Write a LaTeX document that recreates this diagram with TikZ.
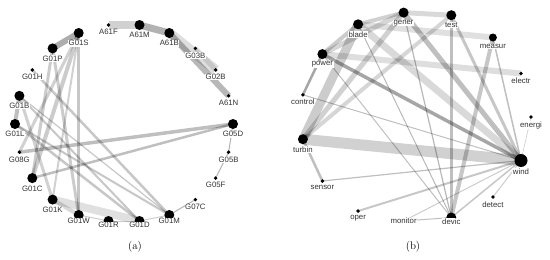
\documentclass[tikz,border=0pt]{standalone}
\usepackage{fontspec}
\newfontfamily\labfont{Liberation Sans}
\pgfdeclarelayer{bg}
\pgfsetlayers{bg,main}
\begin{document}
\begin{tikzpicture}[x=1pt,y=-1pt,
  big/.style={circle,fill=black,inner sep=0pt,minimum size=10pt},
  med/.style={circle,fill=black,inner sep=0pt,minimum size=8pt},
  huge/.style={circle,fill=black,inner sep=0pt,minimum size=13pt},
  sml/.style={circle,fill=black,inner sep=0pt,minimum size=3.8pt},
  lab/.style={font=\labfont\fontsize{7.8}{8}\selectfont,fill=white,inner sep=0.5pt,text=black!80,label distance=1.6pt},
  ed/.style 2 args={line width=#1pt,draw=black,draw opacity=#2},
  captext/.style={font=\fontsize{11}{12}\selectfont,inner sep=0pt}]
\useasboundingbox (0,0) rectangle (550,260);
% ---------- panel (a) nodes ----------
\node[big,label={[lab]below:G05D}] (G05D) at (233,124) {};
\node[sml,label={[lab]below:A61N}] (A61N) at (228.6,95.8) {};
\node[sml,label={[lab]below:G02B}] (G02B) at (215.7,69.9) {};
\node[sml,label={[lab]below:G03B}] (G03B) at (195.4,48.4) {};
\node[big,label={[lab]below:A61B}] (A61B) at (169.3,33) {};
\node[big,label={[lab]below:A61M}] (A61M) at (139.5,25) {};
\node[sml,label={[lab]below:A61F}] (A61F) at (108.5,25) {};
\node[big,label={[lab]below:G01S}] (G01S) at (78.7,33) {};
\node[big,label={[lab]below:G01P}] (G01P) at (52.6,48.4) {};
\node[sml,label={[lab]below:G01H}] (G01H) at (32.3,69.9) {};
\node[big,label={[lab]below:G01B}] (G01B) at (19.4,95.8) {};
\node[big,label={[lab]below:G01L}] (G01L) at (15,124) {};
\node[sml,label={[lab]below:G08G}] (G08G) at (19.4,152.2) {};
\node[big,label={[lab]below:G01C}] (G01C) at (32.3,178.1) {};
\node[big,label={[lab]below:G01K}] (G01K) at (52.6,199.6) {};
\node[big,label={[lab,label distance=-2.5pt]below:G01W}] (G01W) at (78.7,215) {};
\node[big,label={[lab,label distance=-4.5pt]below:G01R}] (G01R) at (108.5,221) {};
\node[big,label={[lab,label distance=-4.5pt]below:G01D}] (G01D) at (139.5,221) {};
\node[big,label={[lab,label distance=-2.5pt]below:G01M}] (G01M) at (169.3,215) {};
\node[sml,label={[lab]below:G07C}] (G07C) at (195.4,199.6) {};
\node[sml,label={[lab]below:G05F}] (G05F) at (215.7,178.1) {};
\node[sml,label={[lab]below:G05B}] (G05B) at (228.6,152.2) {};
% ---------- panel (b) nodes ----------
\node[sml,label={[lab]below:energi}] (energi) at (531,117) {};
\node[sml,label={[lab]below:electr}] (electr) at (521,73.5) {};
\node[med,label={[lab]below:measur}] (measur) at (492.9,37.5) {};
\node[big,label={[lab]below:test}] (test) at (451.3,15.2) {};
\node[big,label={[lab]below:gener}] (gener) at (403.6,12.6) {};
\node[big,label={[lab]below:blade}] (blade) at (358.1,24.3) {};
\node[big,label={[lab]below:power}] (power) at (322.4,54.1) {};
\node[sml,label={[lab]below:control}] (control) at (302.9,94.8) {};
\node[big,label={[lab]below:turbin}] (turbin) at (302.9,139.2) {};
\node[sml,label={[lab]below:sensor}] (sensor) at (322.4,181) {};
\node[sml,label={[lab]below:oper}] (oper) at (358.1,211) {};
\node[sml,label={[lab]center:monitor}] (monitor) at (403.6,221) {};
\node[big,label={[lab,label distance=-4.5pt]below:devic}] (devic) at (451.3,217.5) {};
\node[sml,label={[lab]below:detect}] (detect) at (492.9,197) {};
\node[huge,label={[lab,label distance=0.8pt]below:wind}] (wind) at (521,160.5) {};
% ---------- captions ----------
\node[captext] (capa) at (135,247) {(a)};
\node[captext] (capb) at (413,247) {(b)};
% ---------- edges ----------
\begin{pgfonlayer}{bg}
% panel (a)
\draw[ed={6}{0.32}] (G01S.center) -- (G01P.center);
\draw[ed={8}{0.18}] (A61F.center) -- (A61M.center);
\draw[ed={7}{0.3}] (A61M.center) -- (A61B.center);
\draw[ed={10}{0.13}] (A61B.center) -- (G02B.center);
\draw[ed={6}{0.28}] (A61B.center) -- (A61N.center);
\draw[ed={5}{0.1}] (G03B.center) -- (G02B.center);
\draw[ed={1}{0.3}] (G05D.center) -- (G05B.center);
\draw[ed={1}{0.3}] (G05B.center) -- (G05F.center);
\draw[ed={1}{0.3}] (G07C.center) -- (G01M.center);
\draw[ed={1}{0.2}] (G01W.center) -- (G01R.center);
\draw[ed={1}{0.2}] (G01R.center) -- (G01D.center);
\draw[ed={1}{0.2}] (G01D.center) -- (G01M.center);
\draw[ed={8}{0.12}] (G01K.center) -- (G01D.center);
\draw[ed={4}{0.15}] (G01K.center) -- (G01W.center);
\draw[ed={3.5}{0.25}] (G05D.center) -- (G08G.center);
\draw[ed={2.5}{0.25}] (G05D.center) -- (G01C.center);
\draw[ed={3}{0.22}] (G01S.center) -- (G01W.center);
\draw[ed={4}{0.2}] (G01S.center) -- (G01C.center);
\draw[ed={3}{0.18}] (G01S.center) -- (G08G.center);
\draw[ed={2}{0.18}] (G01S.center) -- (G01K.center);
\draw[ed={3}{0.2}] (G01P.center) -- (G01C.center);
\draw[ed={3}{0.2}] (G01P.center) -- (G01W.center);
\draw[ed={2.5}{0.22}] (G01H.center) -- (G01M.center);
\draw[ed={4}{0.25}] (G01B.center) -- (G01L.center);
\draw[ed={3}{0.18}] (G01B.center) -- (G01K.center);
\draw[ed={2}{0.22}] (G01B.center) -- (G01D.center);
\draw[ed={1.2}{0.22}] (G01B.center) -- (G01M.center);
\draw[ed={2.5}{0.22}] (G01L.center) -- (G01D.center);
\draw[ed={2}{0.22}] (G01L.center) -- (G01M.center);
% panel (b)
\draw[ed={11}{0.18}] (turbin.center) -- (wind.center);
\draw[ed={9}{0.2}] (turbin.center) -- (blade.center);
\draw[ed={5}{0.18}] (turbin.center) -- (gener.center);
\draw[ed={4}{0.16}] (turbin.center) -- (test.center);
\draw[ed={2.5}{0.25}] (turbin.center) -- (sensor.center);
\draw[ed={2.5}{0.35}] (power.center) -- (control.center);
\draw[ed={3.5}{0.35}] (power.center) -- (wind.center);
\draw[ed={6}{0.13}] (power.center) -- (electr.center);
\draw[ed={5}{0.16}] (power.center) -- (gener.center);
\draw[ed={4}{0.2}] (power.center) -- (blade.center);
\draw[ed={6}{0.12}] (blade.center) -- (measur.center);
\draw[ed={4}{0.18}] (blade.center) -- (gener.center);
\draw[ed={5}{0.15}] (gener.center) -- (test.center);
\draw[ed={5}{0.25}] (gener.center) -- (wind.center);
\draw[ed={7}{0.15}] (blade.center) -- (wind.center);
\draw[ed={3}{0.22}] (test.center) -- (wind.center);
\draw[ed={2.5}{0.25}] (test.center) -- (devic.center);
\draw[ed={4}{0.22}] (measur.center) -- (devic.center);
\draw[ed={1.5}{0.25}] (measur.center) -- (wind.center);
\draw[ed={1.2}{0.28}] (gener.center) -- (devic.center);
\draw[ed={1}{0.28}] (blade.center) -- (devic.center);
\draw[ed={1}{0.25}] (power.center) -- (devic.center);
\draw[ed={1}{0.25}] (control.center) -- (wind.center);
\draw[ed={1.2}{0.25}] (sensor.center) -- (wind.center);
\draw[ed={2}{0.22}] (oper.center) -- (wind.center);
\draw[ed={1}{0.25}] (monitor.center) -- (devic.center);
\draw[ed={1}{0.2}] (monitor.center) -- (wind.center);
\draw[ed={1}{0.2}] (detect.center) -- (wind.center);
\draw[ed={1.5}{0.22}] (devic.center) -- (wind.center);
\draw[ed={0.6}{0.2}] (energi.center) -- (wind.center);
\end{pgfonlayer}
\end{tikzpicture}
\end{document}
